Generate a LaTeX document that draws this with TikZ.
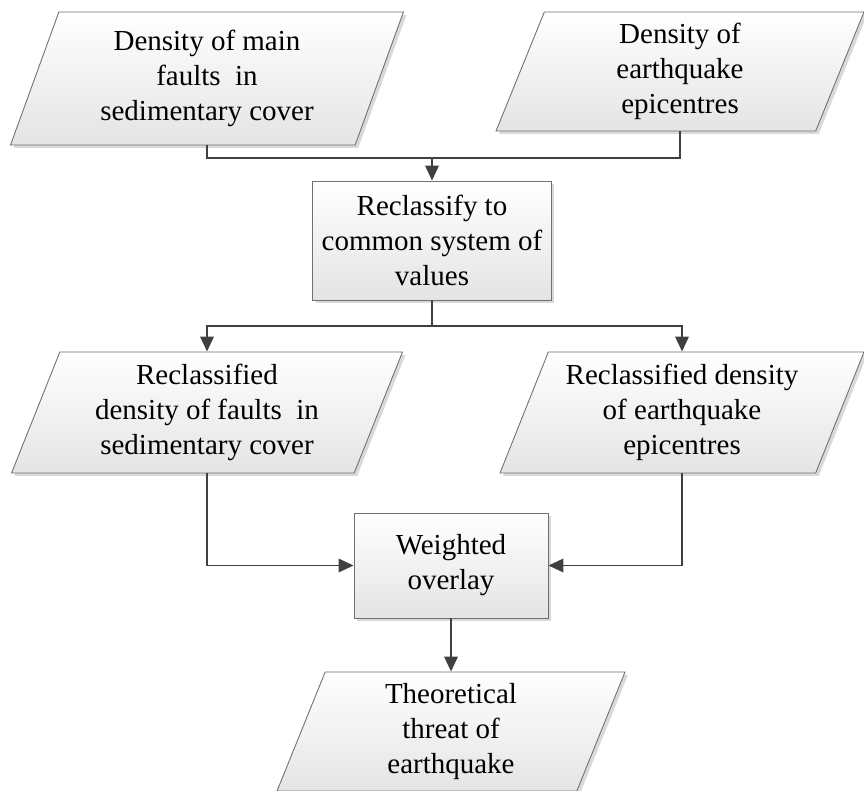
\documentclass[tikz,border=0pt]{standalone}
\usepackage{fontspec}
\setmainfont{Liberation Serif}
\usepackage{tikz}
\usetikzlibrary{shapes.geometric,arrows.meta,shadows}
\definecolor{linegray}{HTML}{404040}
\definecolor{edgegray}{HTML}{707070}
\definecolor{shadegray}{HTML}{E4E4E4}
\definecolor{shadowgray}{HTML}{D9D9D9}
\tikzset{
	boxshade/.style={draw=edgegray, line width=0.5pt, top color=white, bottom color=shadegray,
		drop shadow={shadow xshift=0.06cm, shadow yshift=-0.06cm, fill=shadowgray, opacity=1},
		align=center, font=\fontsize{16.5}{19.9}\selectfont, inner sep=0pt},
	datapar/.style={boxshade, trapezium, trapezium left angle=63.43, trapezium right angle=116.57,
		trapezium stretches body=true},
	procbox/.style={boxshade, rectangle},
	flowline/.style={draw=linegray, line width=1.1pt},
	flowarrow/.style={flowline, -{Triangle[length=0.3cm, width=0.27cm]}}
}

\begin{document}
\begin{tikzpicture}[x=0.02cm, y=-0.02cm]
			%%%%% START %%%%%
			
			\useasboundingbox (0, 0) rectangle (864, 790);
			
			\node[datapar, minimum width=7.86cm, minimum height=2.66cm] (faultsin) at (207, 78.5) {Density of main\\faults\ \ in\\sedimentary cover};
			\node[datapar, minimum width=7.36cm, minimum height=2.38cm] (quakesin) at (680, 71.5) {Density of\\earthquake\\epicentres};
			
			\node[procbox, minimum width=4.78cm, minimum height=2.38cm] (reclass) at (432, 240.5) {Reclassify to\\common system of\\values};
			
			\node[datapar, minimum width=7.82cm, minimum height=2.42cm] (faultsre) at (207, 412.5) {Reclassified\\density of faults\ \ in\\sedimentary cover};
			\node[datapar, minimum width=7.28cm, minimum height=2.42cm] (quakesre) at (682, 412.5) {Reclassified density\\of earthquake\\epicentres};
			
			\node[procbox, minimum width=3.88cm, minimum height=2.1cm] (overlay) at (451, 565.5) {Weighted\\overlay};
			
			\node[datapar, minimum width=6.96cm, minimum height=2.38cm] (threat) at (451, 731.5) {Theoretical\\threat of\\earthquake};
			
			\coordinate (joinin) at (432, 158);
			\coordinate (joinout) at (432, 326);
			
			\draw[flowline] (faultsin.south) |- (joinin);
			\draw[flowline] (quakesin.south) |- (joinin);
			\draw[flowarrow] (joinin) -- (reclass.north);
			
			\draw[flowline] (reclass.south) -- (joinout);
			\draw[flowarrow] (joinout) -| (faultsre.north);
			\draw[flowarrow] (joinout) -| (quakesre.north);
			
			\draw[flowarrow] (faultsre.south) |- (overlay.west);
			\draw[flowarrow] (quakesre.south) |- (overlay.east);
			\draw[flowarrow] (overlay.south) -- (threat.north);
			
			%%%%% END %%%%%
\end{tikzpicture}
\end{document}
